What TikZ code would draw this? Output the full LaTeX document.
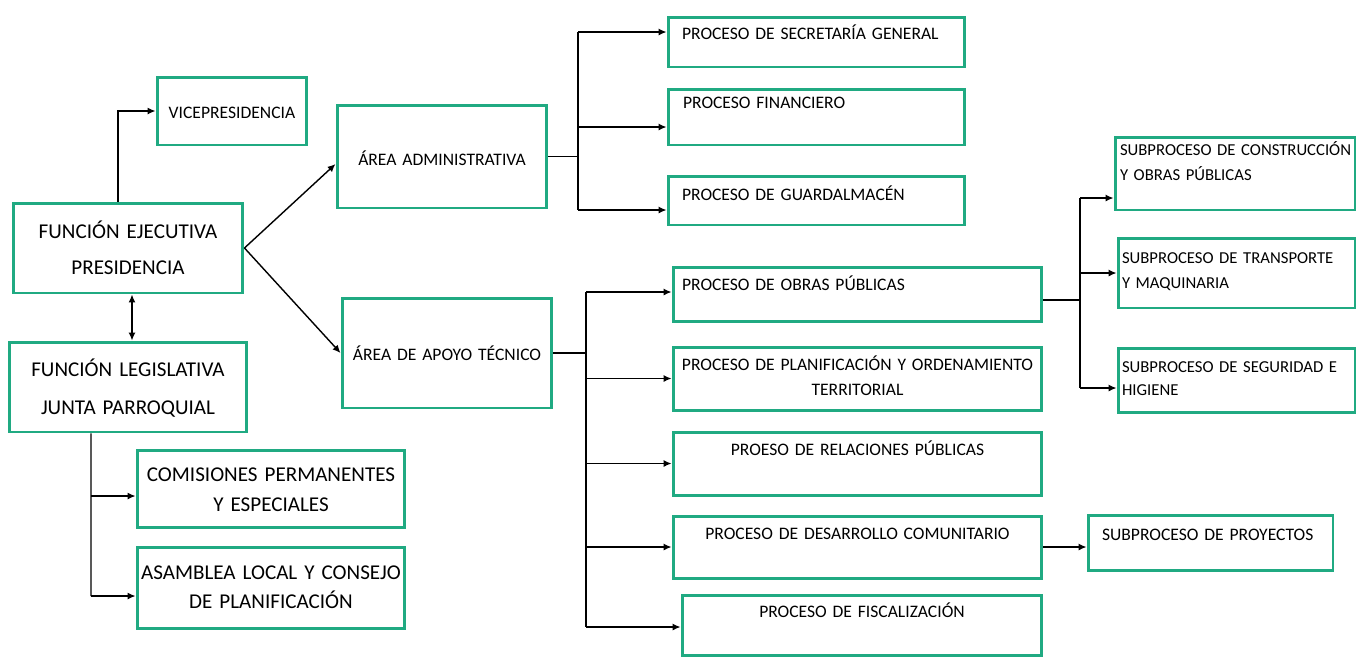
\documentclass[tikz,border=0pt]{standalone}
\usepackage{fontspec}
\setmainfont{Carlito}
\usepackage{xcolor}
\usepackage{tikz}
\usetikzlibrary{arrows.meta}
\definecolor{verdecaja}{RGB}{32,170,130}

\begin{document}
\begin{tikzpicture}[x=0.02cm, y=-0.02cm,
    caja/.style={draw=verdecaja, line width=1.7pt, rectangle, inner sep=0pt, text height=0pt, text depth=0pt},
    grande/.style={caja, align=center, font=\fontsize{12}{17}\selectfont},
    chica/.style={caja, align=center, font=\fontsize{10}{14.2}\selectfont},
    izq/.style={caja, align=left, font=\fontsize{10}{14.2}\selectfont},
    sub/.style={caja, align=left, font=\fontsize{9.5}{14.2}\selectfont},
    linea/.style={line width=0.8pt},
    flecha/.style={linea, -{Latex[length=4.5pt,width=4pt]}}]
    \useasboundingbox (0,0) rectangle (1365,657);

    % funciones
    \node[chica, minimum width=3cm, minimum height=1.36cm, text width=2.8cm, text height=8.8pt] (vice) at (232,111) {VICEPRESIDENCIA};
    \node[grande, minimum width=4.6cm, minimum height=1.8cm, text width=4.4cm, text depth=10.5pt] (ejec) at (128,248) {FUNCIÓN EJECUTIVA\\[3.5pt] PRESIDENCIA};
    \node[grande, minimum width=4.76cm, minimum height=1.8cm, text width=4.56cm, text depth=11.6pt] (legis) at (128,387) {FUNCIÓN LEGISLATIVA\\[4.6pt] JUNTA PARROQUIAL};
    \node[grande, minimum width=5.36cm, minimum height=1.54cm, text width=5.24cm, text depth=7.6pt] (comis) at (271,488.5) {COMISIONES PERMANENTES\\ Y ESPECIALES};
    \node[grande, minimum width=5.36cm, minimum height=1.62cm, text width=5.24cm, text depth=8.8pt] (asamb) at (271,587.5) {ASAMBLEA LOCAL Y CONSEJO\\[-0.5pt] DE PLANIFICACIÓN};

    % areas
    \node[chica, minimum width=4.2cm, minimum height=2.06cm, text width=4cm, text height=10.5pt] (admin) at (442,156.5) {ÁREA ADMINISTRATIVA};
    \node[chica, minimum width=4.2cm, minimum height=2.2cm, text width=4cm, text height=8.8pt] (apoyo) at (447,353) {ÁREA DE APOYO TÉCNICO};

    % procesos administrativos
    \node[izq, minimum width=5.94cm, minimum height=1cm, text width=5.38cm, text depth=3.2pt] (secre) at (816.5,42) {PROCESO DE SECRETARÍA GENERAL};
    \node[izq, minimum width=5.94cm, minimum height=1.12cm, text width=5.34cm, text depth=9.4pt] (finan) at (816.5,117) {PROCESO FINANCIERO};
    \node[izq, minimum width=5.94cm, minimum height=0.98cm, text width=5.38cm] (guard) at (816.5,200.5) {PROCESO DE GUARDALMACÉN};

    % procesos tecnicos
    \node[izq, minimum width=7.38cm, minimum height=1.08cm, text width=7.02cm, text depth=3.8pt] (obras) at (857.5,294) {PROCESO DE OBRAS PÚBLICAS};
    \node[chica, minimum width=7.38cm, minimum height=1.26cm, text width=7.18cm, text depth=8.9pt] (plani) at (857.5,378.5) {PROCESO DE PLANIFICACIÓN Y ORDENAMIENTO\\ TERRITORIAL};
    \node[chica, minimum width=7.38cm, minimum height=1.26cm, text width=7.18cm, text depth=8.9pt] (relac) at (857.5,463.5) {PROESO DE RELACIONES PÚBLICAS};
    \node[chica, minimum width=7.38cm, minimum height=1.24cm, text width=7.18cm, text depth=8.3pt] (desar) at (857.5,547) {PROCESO DE DESARROLLO COMUNITARIO};
    \node[chica, minimum width=7.2cm, minimum height=1.2cm, text width=7cm, text depth=8.3pt] (fisca) at (862,625) {PROCESO DE FISCALIZACIÓN};

    % subprocesos
    \node[sub, minimum width=4.8cm, minimum height=1.46cm, text width=4.6cm, text depth=20.8pt] (constr) at (1235,173.5) {\mbox{SUBPROCESO DE CONSTRUCCIÓN}\\ Y OBRAS PÚBLICAS};
    \node[sub, minimum width=4.74cm, minimum height=1.4cm, text width=4.58cm, text depth=11.2pt] (transp) at (1236.5,273) {SUBPROCESO DE TRANSPORTE\\ Y MAQUINARIA};
    \node[sub, minimum width=4.74cm, minimum height=1.28cm, text width=4.58cm, text depth=8.9pt] (segur) at (1236.5,380) {SUBPROCESO DE SEGURIDAD E\\[-1.1pt] HIGIENE};
    \node[izq, minimum width=4.9cm, minimum height=1.1cm, text width=4.34cm, text depth=2pt] (proy) at (1210.5,542.5) {SUBPROCESO DE PROYECTOS};

    % puntos de ramificacion
    \coordinate (jcom) at (91,496);
    \coordinate (jasa) at (91,596);
    \coordinate (jadmA) at (578,32);
    \coordinate (jadmF) at (578,127);
    \coordinate (jadmB) at (578,210);
    \coordinate (japT) at (586,292);
    \coordinate (japB) at (586,627);
    \coordinate (jsub) at (1080,300);
    \coordinate (jsubT) at (1080,198);
    \coordinate (jsubB) at (1080,388);

    % conectores de la presidencia
    \draw[flecha] ([xshift=-0.2cm]ejec.north) |- (vice.west);
    \draw[flecha] (ejec.east) -- ([yshift=-0.15cm]admin.west);
    \draw[flecha] (ejec.east) -- (apoyo.west);
    \draw[linea, {Latex[length=4.5pt,width=4pt]}-{Latex[length=4.5pt,width=4pt]}] ([xshift=0.08cm]ejec.south) -- ([xshift=0.08cm]legis.north);

    % junta parroquial
    \draw[linea] ([xshift=-0.74cm]legis.south) -- (jasa);
    \draw[flecha] (jcom) -- (jcom -| comis.west);
    \draw[flecha] (jasa) -- (jasa -| asamb.west);

    % area administrativa
    \draw[linea] (admin.east) -- (admin.east -| jadmA);
    \draw[linea] (jadmA) -- (jadmB);
    \draw[flecha] (jadmA) -- (jadmA -| secre.west);
    \draw[flecha] (jadmF) -- (jadmF -| finan.west);
    \draw[flecha] (jadmB) -- (jadmB -| guard.west);

    % area de apoyo tecnico
    \draw[linea] (apoyo.east) -- (apoyo.east -| japT);
    \draw[linea] (japT) -- (japB);
    \draw[flecha] (japT) -- (japT -| obras.west);
    \draw[flecha] (plani.west -| japT) -- (plani.west);
    \draw[flecha] (relac.west -| japT) -- (relac.west);
    \draw[flecha] (desar.west -| japT) -- (desar.west);
    \draw[flecha] (japB) -- (japB -| fisca.west);

    % subprocesos
    \draw[linea] (jsub -| obras.east) -- (jsub);
    \draw[linea] (jsubT) -- (jsubB);
    \draw[flecha] (jsubT) -- (jsubT -| constr.west);
    \draw[flecha] (transp.west -| jsubT) -- (transp.west);
    \draw[flecha] (jsubB) -- (jsubB -| segur.west);
    \draw[flecha] (desar.east) -- (desar.east -| proy.west);
\end{tikzpicture}
\end{document}
